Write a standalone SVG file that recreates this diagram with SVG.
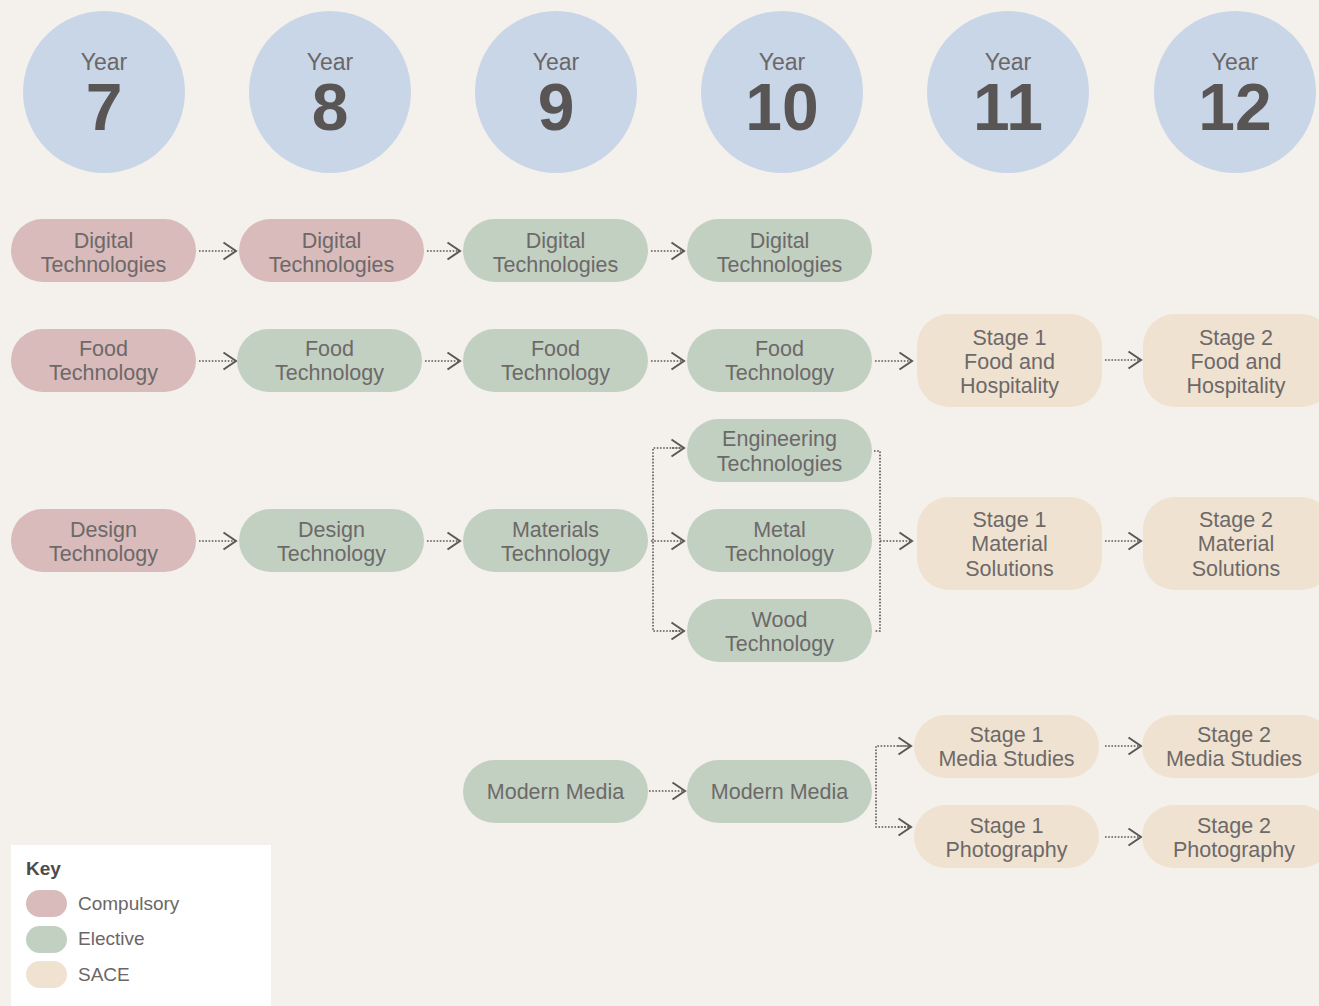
<svg xmlns="http://www.w3.org/2000/svg" width="1319" height="1006" viewBox="0 0 1319 1006">
<defs>
<style>
.bg{fill:#f4f1ec}
.yr{fill:#c9d6e8}
.c{fill:#d9bbbb}
.e{fill:#c2d0c2}
.s{fill:#f0e2d0}
.t{font-family:"Liberation Sans",Arial,sans-serif;font-size:21.5px;fill:#6d6969;text-anchor:middle}
.yl{font-family:"Liberation Sans",Arial,sans-serif;font-size:23px;fill:#6b6767;text-anchor:middle}
.yn{font-family:"Liberation Sans",Arial,sans-serif;font-size:66px;font-weight:bold;fill:#595555;text-anchor:middle}
.k{font-family:"Liberation Sans",Arial,sans-serif;font-size:19px;fill:#6b6767}
.kh{font-family:"Liberation Sans",Arial,sans-serif;font-size:19px;font-weight:bold;fill:#4f4b4b}
.ln{fill:none;stroke:#5b5757;stroke-width:1.6;stroke-dasharray:1.6 1.6}
</style>
<marker id="ar" markerUnits="userSpaceOnUse" markerWidth="18" markerHeight="22" viewBox="-15 -11 18 22" refX="0" refY="0" orient="auto" overflow="visible">
<path d="M-12.5,-8.5 L0,0 L-12.5,8.5" fill="none" stroke="#5b5757" stroke-width="2"/>
</marker>
</defs>
<rect class="bg" x="0" y="0" width="1319" height="1006"/>

<g id="year7"><circle class="yr" cx="104" cy="92" r="81"/><text class="yl" x="104" y="70">Year</text><text class="yn" x="104" y="130">7</text></g>
<g id="year8"><circle class="yr" cx="330" cy="92" r="81"/><text class="yl" x="330" y="70">Year</text><text class="yn" x="330" y="130">8</text></g>
<g id="year9"><circle class="yr" cx="556" cy="92" r="81"/><text class="yl" x="556" y="70">Year</text><text class="yn" x="556" y="130">9</text></g>
<g id="year10"><circle class="yr" cx="782" cy="92" r="81"/><text class="yl" x="782" y="70">Year</text><text class="yn" x="782" y="130">10</text></g>
<g id="year11"><circle class="yr" cx="1008" cy="92" r="81"/><text class="yl" x="1008" y="70">Year</text><text class="yn" x="1008" y="130">11</text></g>
<g id="year12"><circle class="yr" cx="1235" cy="92" r="81"/><text class="yl" x="1235" y="70">Year</text><text class="yn" x="1235" y="130">12</text></g>

<g id="connectors">
<path class="ln" d="M199,251 H236" marker-end="url(#ar)"/>
<path class="ln" d="M427,251 H460" marker-end="url(#ar)"/>
<path class="ln" d="M651,251 H684" marker-end="url(#ar)"/>
<path class="ln" d="M199,361 H236" marker-end="url(#ar)"/>
<path class="ln" d="M425,361 H460" marker-end="url(#ar)"/>
<path class="ln" d="M651,361 H684" marker-end="url(#ar)"/>
<path class="ln" d="M875,361 H912" marker-end="url(#ar)"/>
<path class="ln" d="M1105,360 H1141" marker-end="url(#ar)"/>
<path class="ln" d="M199,541 H236" marker-end="url(#ar)"/>
<path class="ln" d="M427,541 H460" marker-end="url(#ar)"/>
<path class="ln" d="M651,541 H684" marker-end="url(#ar)"/>
<path class="ln" d="M684,448 H653 V631 H684"/>
<path class="ln" d="M672,448 H684" marker-end="url(#ar)"/>
<path class="ln" d="M672,631 H684" marker-end="url(#ar)"/>
<path class="ln" d="M874,451 H880 V631 H874"/>
<path class="ln" d="M880,541 H912" marker-end="url(#ar)"/>
<path class="ln" d="M1105,541 H1141" marker-end="url(#ar)"/>
<path class="ln" d="M649,791 H685" marker-end="url(#ar)"/>
<path class="ln" d="M911,746 H876 V827 H911"/>
<path class="ln" d="M898,746 H911" marker-end="url(#ar)"/>
<path class="ln" d="M898,827 H911" marker-end="url(#ar)"/>
<path class="ln" d="M1105,746 H1141" marker-end="url(#ar)"/>
<path class="ln" d="M1105,837 H1141" marker-end="url(#ar)"/>
</g>

<g id="dt7"><rect class="c" x="11" y="219" width="185" height="63" rx="31.5"/><text class="t" x="103.5" y="248">Digital<tspan x="103.5" y="272">Technologies</tspan></text></g>
<g id="dt8"><rect class="c" x="239" y="219" width="185" height="63" rx="31.5"/><text class="t" x="331.5" y="248">Digital<tspan x="331.5" y="272">Technologies</tspan></text></g>
<g id="dt9"><rect class="e" x="463" y="219" width="185" height="63" rx="31.5"/><text class="t" x="555.5" y="248">Digital<tspan x="555.5" y="272">Technologies</tspan></text></g>
<g id="dt10"><rect class="e" x="687" y="219" width="185" height="63" rx="31.5"/><text class="t" x="779.5" y="248">Digital<tspan x="779.5" y="272">Technologies</tspan></text></g>

<g id="ft7"><rect class="c" x="11" y="329" width="185" height="63" rx="31.5"/><text class="t" x="103.5" y="356">Food<tspan x="103.5" y="380">Technology</tspan></text></g>
<g id="ft8"><rect class="e" x="237" y="329" width="185" height="63" rx="31.5"/><text class="t" x="329.5" y="356">Food<tspan x="329.5" y="380">Technology</tspan></text></g>
<g id="ft9"><rect class="e" x="463" y="329" width="185" height="63" rx="31.5"/><text class="t" x="555.5" y="356">Food<tspan x="555.5" y="380">Technology</tspan></text></g>
<g id="ft10"><rect class="e" x="687" y="329" width="185" height="63" rx="31.5"/><text class="t" x="779.5" y="356">Food<tspan x="779.5" y="380">Technology</tspan></text></g>
<g id="s1fh"><rect class="s" x="917" y="314" width="185" height="93" rx="32"/><text class="t" x="1009.5" y="345">Stage 1<tspan x="1009.5" y="369">Food and</tspan><tspan x="1009.5" y="393">Hospitality</tspan></text></g>
<g id="s2fh"><rect class="s" x="1143" y="314" width="190" height="93" rx="32"/><text class="t" x="1236" y="345">Stage 2<tspan x="1236" y="369">Food and</tspan><tspan x="1236" y="393">Hospitality</tspan></text></g>

<g id="dsn7"><rect class="c" x="11" y="509" width="185" height="63" rx="31.5"/><text class="t" x="103.5" y="537">Design<tspan x="103.5" y="561">Technology</tspan></text></g>
<g id="dsn8"><rect class="e" x="239" y="509" width="185" height="63" rx="31.5"/><text class="t" x="331.5" y="537">Design<tspan x="331.5" y="561">Technology</tspan></text></g>
<g id="mat9"><rect class="e" x="463" y="509" width="185" height="63" rx="31.5"/><text class="t" x="555.5" y="537">Materials<tspan x="555.5" y="561">Technology</tspan></text></g>
<g id="eng10"><rect class="e" x="687" y="419" width="185" height="63" rx="31.5"/><text class="t" x="779.5" y="446">Engineering<tspan x="779.5" y="471">Technologies</tspan></text></g>
<g id="metal10"><rect class="e" x="687" y="509" width="185" height="63" rx="31.5"/><text class="t" x="779.5" y="537">Metal<tspan x="779.5" y="561">Technology</tspan></text></g>
<g id="wood10"><rect class="e" x="687" y="599" width="185" height="63" rx="31.5"/><text class="t" x="779.5" y="627">Wood<tspan x="779.5" y="651">Technology</tspan></text></g>
<g id="s1ms"><rect class="s" x="917" y="497" width="185" height="93" rx="32"/><text class="t" x="1009.5" y="527">Stage 1<tspan x="1009.5" y="551">Material</tspan><tspan x="1009.5" y="576">Solutions</tspan></text></g>
<g id="s2ms"><rect class="s" x="1143" y="497" width="190" height="93" rx="32"/><text class="t" x="1236" y="527">Stage 2<tspan x="1236" y="551">Material</tspan><tspan x="1236" y="576">Solutions</tspan></text></g>

<g id="mm9"><rect class="e" x="463" y="760" width="185" height="63" rx="31.5"/><text class="t" x="555.5" y="799">Modern Media</text></g>
<g id="mm10"><rect class="e" x="687" y="760" width="185" height="63" rx="31.5"/><text class="t" x="779.5" y="799">Modern Media</text></g>
<g id="s1media"><rect class="s" x="914" y="715" width="185" height="63" rx="31.5"/><text class="t" x="1006.5" y="742">Stage 1<tspan x="1006.5" y="766">Media Studies</tspan></text></g>
<g id="s2media"><rect class="s" x="1142" y="715" width="190" height="63" rx="31.5"/><text class="t" x="1234" y="742">Stage 2<tspan x="1234" y="766">Media Studies</tspan></text></g>
<g id="s1photo"><rect class="s" x="914" y="805" width="185" height="63" rx="31.5"/><text class="t" x="1006.5" y="833">Stage 1<tspan x="1006.5" y="857">Photography</tspan></text></g>
<g id="s2photo"><rect class="s" x="1142" y="805" width="190" height="63" rx="31.5"/><text class="t" x="1234" y="833">Stage 2<tspan x="1234" y="857">Photography</tspan></text></g>

<g id="key">
<rect x="11" y="845" width="260" height="170" fill="#ffffff"/>
<text class="kh" x="26" y="875">Key</text>
<rect class="c" x="26" y="890" width="41" height="27" rx="13.5"/>
<text class="k" x="78" y="910">Compulsory</text>
<rect class="e" x="26" y="926" width="41" height="27" rx="13.5"/>
<text class="k" x="78" y="945">Elective</text>
<rect class="s" x="26" y="961" width="41" height="27" rx="13.5"/>
<text class="k" x="78" y="981">SACE</text>
</g>
</svg>
